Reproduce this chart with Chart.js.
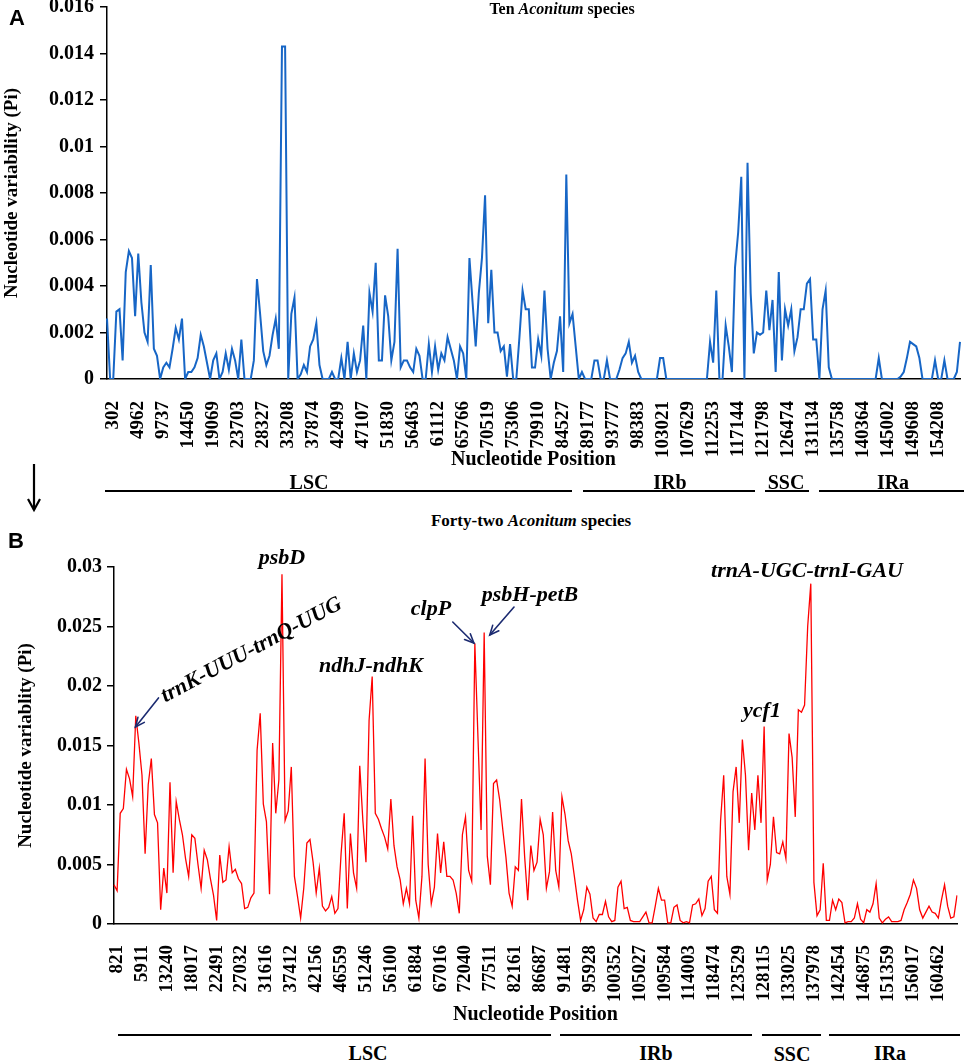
<!DOCTYPE html>
<html><head><meta charset="utf-8">
<script src="https://cdn.jsdelivr.net/npm/chart.js@4.4.1/dist/chart.umd.min.js"></script>
<style>
html,body{margin:0;padding:0;background:#fff;}
body{width:969px;height:1063px;position:relative;overflow:hidden;font-family:"Liberation Serif","Times New Roman",serif;color:#000;}
.abs{position:absolute;white-space:nowrap;line-height:1;}
.c{transform:translate(-50%,-50%);}
.t{font-weight:bold;}
.g{font-weight:bold;font-style:italic;font-size:22px;}
.bar{position:absolute;height:0;border-top:2px solid #000;}
.lab{font-family:"Liberation Sans",Arial,sans-serif;font-weight:bold;font-size:22px;}
canvas{position:absolute;left:0;}
</style></head><body>
<canvas id="cA" width="969" height="492" style="top:-20px;width:969px;height:492px"></canvas>
<canvas id="cB" width="969" height="487" style="top:540px;width:969px;height:487px"></canvas>

<div class="abs lab c" style="left:17px;top:18px">A</div>
<div class="abs lab c" style="left:16px;top:541px">B</div>
<div class="abs t c" style="left:562px;top:9px;font-size:16px">Ten <i>Aconitum</i> species</div>
<div class="abs t c" style="left:531px;top:520px;font-size:17px">Forty-two <i>Aconitum</i> species</div>

<!-- region bars panel A -->
<div class="bar" style="left:105px;width:467px;top:490px"></div>
<div class="bar" style="left:583px;width:172px;top:490px"></div>
<div class="bar" style="left:765px;width:44px;top:490px"></div>
<div class="bar" style="left:819px;width:145px;top:490px"></div>
<div class="abs t c" style="left:309px;top:482px;font-size:20px">LSC</div>
<div class="abs t c" style="left:670px;top:482px;font-size:20px">IRb</div>
<div class="abs t c" style="left:786px;top:482px;font-size:20px">SSC</div>
<div class="abs t c" style="left:893px;top:482px;font-size:20px">IRa</div>

<!-- region bars panel B -->
<div class="bar" style="left:118px;width:433px;top:1034px"></div>
<div class="bar" style="left:560px;width:192px;top:1034px"></div>
<div class="bar" style="left:762px;width:59px;top:1034px"></div>
<div class="bar" style="left:829px;width:131px;top:1034px"></div>
<div class="abs t c" style="left:368px;top:1053px;font-size:20px">LSC</div>
<div class="abs t c" style="left:656px;top:1053px;font-size:20px">IRb</div>
<div class="abs t c" style="left:792px;top:1054px;font-size:20px">SSC</div>
<div class="abs t c" style="left:890px;top:1053px;font-size:20px">IRa</div>

<svg class="abs" style="left:24px;top:462px" width="20" height="52">
  <line x1="10" y1="2" x2="10" y2="48" stroke="#000" stroke-width="2.2"/>
  <polyline points="4,37 10,48 16,37" fill="none" stroke="#000" stroke-width="2.2"/>
</svg>

<!-- gene annotations panel B -->
<div class="abs g c" style="left:282px;top:557px">psbD</div>
<div class="abs g c" style="left:251px;top:649px;transform:translate(-50%,-50%) rotate(-28deg)">trnK-UUU-trnQ-UUG</div>
<div class="abs g c" style="left:371px;top:665px">ndhJ-ndhK</div>
<div class="abs g c" style="left:431px;top:608px">clpP</div>
<div class="abs g c" style="left:530px;top:594px">psbH-petB</div>
<div class="abs g c" style="left:807px;top:570px">trnA-UGC-trnI-GAU</div>
<div class="abs g c" style="left:762px;top:710px">ycf1</div>

<script>
// ---------- Panel A: ten Aconitum species ----------
const positionsA = ['302','4962','9737','14450','19069','23703','28327','33208','37874','42499','47107','51830','56463','61112','65766','70519','75306','79910','84527','89177','93777','98383','103021','107629','112253','117144','121798','126474','131134','135758','140364','145002','149608','154208'];
const piA = [
0.0026,0,0,0.0029,0.0030,0.0008,0.0046,0.0055,0.0052,0.0027,
0.0054,0.0033,0.0020,0.0016,0.0049,0.0013,0.0010,0,0.0005,0.0007,
0.0005,0.0013,0.0022,0.0017,0.0026,0,0.0003,0.0003,0.0005,0.0009,
0.0019,0.0014,0.0007,0,0.0008,0.0011,0,0.0003,0.0011,0.0004,
0.0013,0.0008,0,0.0017,0,0,0,0.0008,0.0043,0.0028,
0.0012,0.0006,0.0010,0.0019,0.0026,0.0013,0.0143,0.0143,0,0.0028,
0.0035,0,0.0002,0.0006,0.0003,0.0014,0.0017,0.0024,0.0006,0,
0,0,0.0003,0,0,0.0009,0,0.0016,0,0.0011,
0.0003,0.0008,0.0023,0,0.0037,0.0029,0.0050,0.0008,0.0008,0.0036,
0.0027,0.0008,0.0016,0.0056,0.0005,0.0008,0.0008,0.0005,0.0003,0.0013,
0.0010,0,0,0.0015,0.0003,0.0014,0.0004,0.0011,0.0008,0.0018,
0.0013,0.0008,0,0.0014,0.0011,0,0.0052,0.0033,0.0014,0.0037,
0.0052,0.0079,0.0024,0.0047,0.0020,0.0020,0.0012,0.0014,0.0001,0.0015,
0,0,0.0018,0.0038,0.0030,0.0030,0.0005,0.0005,0.0017,0.0010,
0.0038,0.0013,0,0.0007,0.0012,0.0027,0.0003,0.0088,0.0024,0.0028,
0.0014,0,0.0003,0,0,0,0.0008,0.0008,0,0,
0.0008,0,0,0,0.0004,0.0009,0.0011,0.0016,0.0007,0.0010,
0.0003,0,0,0,0,0,0,0.0009,0.0009,0,
0,0,0,0,0,0,0,0,0,0,
0,0,0,0.0016,0.0007,0.0038,0,0,0.0023,0.0014,
0.0003,0.0048,0.0063,0.0087,0,0.0093,0.0037,0.0011,0.0020,0.0019,
0.0020,0.0038,0.0021,0.0034,0.0003,0.0046,0.0008,0.0030,0.0023,0.0030,
0.0012,0.0018,0.0030,0.0030,0.0041,0.0043,0.0017,0.0017,0,0.0030,
0.0038,0.0005,0,0,0,0,0,0,0,0,
0,0,0,0,0,0,0,0.0009,0,0,
0,0,0,0,0.0001,0.0003,0.0009,0.0016,0.0015,0.0014,
0.0009,0,0,0,0,0.0008,0,0,0.0008,0,
0,0,0.0003,0.0016
];
const yTicksA = [0,0.002,0.004,0.006,0.008,0.01,0.012,0.014,0.016];

// ---------- Panel B: forty-two Aconitum species ----------
const positionsB = ['821','5911','13240','18017','22491','27032','31616','37412','42156','46559','51246','56100','61884','67016','72040','77511','82161','86687','91481','95928','100352','105027','109584','114003','118474','123529','128115','133025','137978','142454','146875','151359','156017','160462'];
const piB = [
0.0033,0.0028,0.0093,0.0097,0.0130,0.0122,0.0107,0.0175,0.0152,0.0125,
0.0059,0.0117,0.0139,0.0092,0.0085,0.0012,0.0047,0.0026,0.0119,0.0043,
0.0103,0.0088,0.0075,0.0055,0.0040,0.0075,0.0072,0.0050,0.0030,0.0062,
0.0054,0.0038,0.0024,0.0003,0.0058,0.0035,0.0037,0.0065,0.0043,0.0046,
0.0038,0.0034,0.0013,0.0014,0.0022,0.0026,0.0146,0.0177,0.0101,0.0086,
0.0025,0.0152,0.0093,0.0121,0.0294,0.0087,0.0095,0.0132,0.0040,0.0023,
0.0005,0.0030,0.0068,0.0071,0.0052,0.0026,0.0047,0.0015,0.0011,0.0014,
0.0023,0.0009,0.0013,0.0059,0.0093,0.0013,0.0076,0.0043,0.0030,0.0133,
0.0087,0.0052,0.0171,0.0208,0.0093,0.0088,0.0080,0.0073,0.0063,0.0105,
0.0066,0.0048,0.0037,0.0017,0.0030,0.0017,0.0091,0.0020,0.0005,0.0040,
0.0139,0.0050,0.0017,0.0031,0.0076,0.0043,0.0069,0.0040,0.0040,0.0037,
0.0026,0.0009,0.0075,0.0090,0.0045,0.0036,0.0236,0.0157,0.0079,0.0245,
0.0057,0.0033,0.0118,0.0121,0.0104,0.0079,0.0056,0.0026,0.0015,0.0048,
0.0045,0.0105,0.0057,0.0020,0.0066,0.0045,0.0052,0.0088,0.0075,0.0030,
0.0044,0.0094,0.0045,0.0031,0.0107,0.0092,0.0070,0.0059,0.0040,0.0020,
0.0003,0.0012,0.0031,0.0025,0.0005,0.0002,0.0008,0.0008,0.0019,0.0006,
0.0002,0.0003,0.0031,0.0036,0.0013,0.0014,0.0003,0.0002,0.0002,0.0002,
0.0006,0.0010,0.0001,0.0001,0.0015,0.0030,0.0020,0.0020,0.0001,0.0001,
0.0014,0.0016,0.0003,0.0001,0.0002,0.0001,0.0016,0.0017,0.0021,0.0007,
0.0013,0.0036,0.0040,0.0012,0.0009,0.0087,0.0125,0.0040,0.0025,0.0111,
0.0132,0.0085,0.0155,0.0125,0.0062,0.0110,0.0079,0.0125,0.0085,0.0166,
0.0037,0.0050,0.0090,0.0060,0.0059,0.0069,0.0055,0.0160,0.0140,0.0090,
0.0180,0.0178,0.0184,0.0250,0.0286,0.0035,0.0007,0.0012,0.0051,0.0003,
0.0003,0.0020,0.0012,0.0021,0.0018,0.0001,0.0002,0.0002,0.0005,0.0017,
0.0004,0.0001,0.0012,0.0010,0.0017,0.0034,0.0005,0.0001,0.0004,0.0006,
0.0002,0.0002,0.0002,0.0003,0.0012,0.0018,0.0025,0.0037,0.0030,0.0012,
0.0005,0.0010,0.0015,0.0010,0.0009,0.0005,0.0020,0.0033,0.0015,0.0005,
0.0006,0.0024
];
const yTicksB = [0,0.005,0.01,0.015,0.02,0.025,0.03];

// window steps between labelled positions, and index of the first label
const STEP = 8;
function buildCats(n, first, labels){
  const c = new Array(n).fill('');
  labels.forEach((l,i)=>{ c[first + i*STEP] = l; });
  return c;
}
const catsA = buildCats(piA.length, 2, positionsA);
const catsB = buildCats(piB.length, 1, positionsB);

const SERIF = '"Liberation Serif","Times New Roman",serif';
const fnt = (s)=>({family:SERIF, weight:'bold', size:s});

const arrowPlugin = {
  id:'geneArrows',
  afterDatasetsDraw(chart, args, opts){
    if(!opts || !opts.arrows) return;
    const {ctx} = chart; const x = chart.scales.x, y = chart.scales.y;
    ctx.save();
    ctx.strokeStyle = '#1b2a70'; ctx.lineWidth = 1.6; ctx.lineCap='round';
    for (const a of opts.arrows){
      const x1=x.getPixelForValue(a.from[0]), y1=y.getPixelForValue(a.from[1]);
      const x2=x.getPixelForValue(a.to[0]), y2=y.getPixelForValue(a.to[1]);
      ctx.beginPath(); ctx.moveTo(x1,y1); ctx.lineTo(x2,y2); ctx.stroke();
      const ang=Math.atan2(y2-y1,x2-x1), L=10, w=0.42;
      ctx.beginPath();
      ctx.moveTo(x2-L*Math.cos(ang-w), y2-L*Math.sin(ang-w));
      ctx.lineTo(x2,y2);
      ctx.lineTo(x2-L*Math.cos(ang+w), y2-L*Math.sin(ang+w));
      ctx.stroke();
    }
    ctx.restore();
  }
};

function makeChart(id, cats, values, color, lw, yMax, yTicks, yTitle, pad, yWidth, xHeight, xPad, yPad, yTitlePad, arrows){
  return new Chart(document.getElementById(id), {
    type:'line',
    data:{labels:cats, datasets:[{data:values, borderColor:color, borderWidth:lw, pointRadius:0, tension:0, fill:false}]},
    plugins:[arrowPlugin],
    options:{
      responsive:false, animation:false, events:[],
      layout:{padding:pad},
      plugins:{legend:{display:false}, tooltip:{enabled:false}, geneArrows:{arrows:arrows}},
      scales:{
        x:{type:'category', grid:{display:false},
           border:{display:true,color:'#000',width:1.5},
           ticks:{autoSkip:false,minRotation:90,maxRotation:90,padding:xPad,color:'#000',font:fnt(19)},
           title:{display:true,text:'Nucleotide Position',color:'#000',font:fnt(20),padding:{top:0,bottom:0}},
           afterFit(s){ s.height = xHeight; s.paddingLeft = 0; s.paddingRight = 0; }},
        y:{min:0,max:yMax,
           afterBuildTicks(s){ s.ticks = yTicks.map(v=>({value:v})); },
           grid:{display:true,drawOnChartArea:false,drawTicks:true,tickLength:7,color:'#000',lineWidth:1.5},
           border:{display:true,color:'#000',width:1.5},
           ticks:{padding:yPad,color:'#000',font:fnt(20),callback:(v)=>String(+Number(v).toFixed(4))},
           title:{display:true,text:yTitle,color:'#000',font:fnt(19),padding:{top:yTitlePad,bottom:0}},
           afterFit(s){ s.width = yWidth; }}
      }
    }
  });
}

makeChart('cA', catsA, piA, '#1766C6', 2, 0.016, yTicksA, 'Nucleotide variability (Pi)',
  {top:27,right:9,left:0,bottom:0}, 107, 93, 14, 6, 1, null);

makeChart('cB', catsB, piB, '#FF0000', 1.3, 0.03, yTicksB, 'Nucleotide variablity (Pi)',
  {top:27,right:12,left:0,bottom:0}, 114, 103, 13, 5, 15, [
    {from:[14.3,0.0190], to:[6.9,0.01655]},
    {from:[108.9,0.02538], to:[115.7,0.02361]},
    {from:[128.6,0.02664], to:[120.8,0.02429]}
  ]);
</script>
</body></html>
